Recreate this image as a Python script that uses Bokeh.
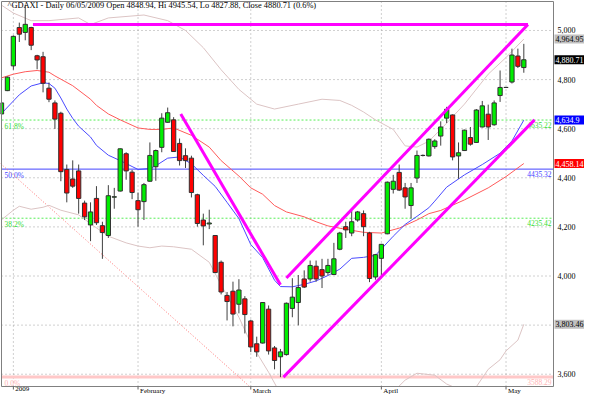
from bokeh.plotting import figure
from bokeh.models import ColumnDataSource
from bokeh.core.properties import value
from bokeh.embed import file_html
from bokeh.resources import INLINE

# ---------------- data ----------------
opens = [4660, 4755, 4856, 5012, 4992, 5012, 4897, 4893, 4765, 4705,
         4663, 4434, 4395, 4428, 4297, 4208, 4316, 4205, 4165, 4321,
         4346, 4498, 4423, 4307, 4303, 4386, 4445, 4524, 4626, 4636,
         4540, 4490, 4480, 4331, 4228, 4212, 4165, 4056, 3921, 3938,
         3885, 3907, 3817, 3724, 3727, 3865, 3707, 3671, 3680, 3868,
         3892, 3988, 3988, 4040, 4026, 4014, 4006, 4109, 4201, 4175,
         4228, 4254, 4175, 3996, 4072, 4172, 4353, 4422, 4359, 4287,
         4399, 4491, 4489, 4527, 4570, 4643, 4656, 4489, 4511, 4564,
         4544, 4607, 4659, 4616, 4735, 4768, 4790, 4896, 4848.94]
highs = [4731, 4812, 4980, 5032, 5103, 5015, 4901, 4913, 4788, 4715,
         4669, 4454, 4471, 4454, 4307, 4300, 4366, 4221, 4370, 4359,
         4520, 4504, 4432, 4340, 4379, 4544, 4515, 4663, 4686, 4647,
         4560, 4520, 4490, 4335, 4254, 4270, 4167, 4063, 3935, 3977,
         3987, 3918, 3822, 3753, 3894, 3880, 3715, 3703, 3892, 3991,
         4004, 4023, 4063, 4063, 4070, 4070, 4135, 4180, 4221, 4265,
         4265, 4267, 4180, 4090, 4131, 4385, 4412, 4454, 4379, 4379,
         4511, 4495, 4560, 4557, 4630, 4689, 4658, 4544, 4596, 4607,
         4680, 4713, 4698, 4715, 4837, 4770, 4926, 4926, 4945.54]
lows = [4656, 4753, 4840, 4953, 4960, 4920, 4842, 4748, 4708, 4599,
        4386, 4300, 4359, 4254, 4228, 4142, 4208, 4070, 4155, 4274,
        4344, 4392, 4313, 4201, 4228, 4384, 4388, 4504, 4624, 4505,
        4450, 4440, 4320, 4201, 4125, 4191, 4012, 3925, 3819, 3795,
        3848, 3766, 3690, 3671, 3725, 3680, 3620, 3588, 3676, 3832,
        3799, 3951, 3977, 3977, 3951, 4003, 4004, 4105, 4155, 4162,
        4221, 4162, 3975, 3985, 4003, 4170, 4336, 4346, 4274, 4234,
        4379, 4487, 4487, 4518, 4531, 4623, 4471, 4396, 4509, 4531,
        4542, 4605, 4554, 4612, 4709, 4766, 4784, 4847, 4827.88]
closes = [4705, 4810, 4976, 4985, 5025, 4940, 4880, 4785, 4720, 4639,
          4425, 4338, 4366, 4316, 4241, 4261, 4217, 4177, 4327, 4323,
          4518, 4428, 4340, 4270, 4372, 4491, 4511, 4643, 4665, 4507,
          4470, 4470, 4340, 4214, 4204, 4216, 4014, 3935, 3896, 3845,
          3943, 3843, 3711, 3691, 3892, 3695, 3656, 3691, 3889, 3914,
          3953, 3955, 4043, 3988, 4000, 4043, 4070, 4175, 4188, 4221,
          4261, 4201, 3990, 4087, 4129, 4382, 4386, 4350, 4322, 4359,
          4491, 4491, 4557, 4550, 4607, 4679, 4485, 4502, 4594, 4537,
          4676, 4693, 4607, 4705, 4768, 4768, 4900, 4854, 4880.71]

# moving averages / bands read at sample days (day index -> price)
blue_day = [0, 3, 5, 7, 8, 9, 10, 11, 12, 13, 15, 16, 18, 20, 22, 23, 25, 26, 28, 30,
            32, 34, 36, 38, 40, 42, 44, 46, 47, 49, 51, 53, 55, 57, 59, 61, 63, 64, 66,
            68, 70, 72, 73, 75, 78, 81, 84, 86, 88]
blue_val = [4662, 4738, 4774, 4787, 4784, 4765, 4725, 4680, 4642, 4610, 4566, 4532, 4492,
            4470, 4446, 4434, 4438, 4449, 4480, 4485, 4457, 4410, 4365, 4300, 4234, 4128,
            4075, 3983, 3957, 3956, 3966, 3980, 4002, 4028, 4072, 4076, 4084, 4110, 4162,
            4210, 4243, 4278, 4305, 4362, 4412, 4454, 4500, 4550, 4634.9]
red_day = [0, 2, 4, 6, 8, 9, 12, 15, 16, 18, 20, 22, 23, 25, 27, 29, 32, 35, 37, 40, 42,
           44, 46, 48, 51, 53, 55, 58, 61, 64, 67, 70, 72, 74, 78, 82, 85, 88]
red_val = [4807, 4822, 4832, 4837, 4830, 4815, 4775, 4720, 4695, 4660, 4636, 4614, 4603,
           4597, 4597, 4603, 4573, 4525, 4470, 4407, 4359, 4333, 4287, 4261, 4241, 4221,
           4204, 4190, 4178, 4175, 4195, 4228, 4254, 4267, 4310, 4359, 4405, 4458.14]
upper_day = [0, 2, 5, 8, 13, 15, 18, 24, 28, 31, 34, 37, 40, 43, 46, 50, 54, 57, 59,
             61, 63, 66, 68, 70, 72, 74, 78, 82, 85, 88]
upper_val = [5103, 5071, 5040, 5040, 5051, 5024, 5051, 5063, 5040, 5000, 4930, 4840, 4760,
             4700, 4680, 4700, 4720, 4715, 4695, 4668, 4636, 4597, 4530, 4525, 4549,
             4597, 4700, 4822, 4890, 4964.95]
lower_day = [0, 2, 3, 5, 7, 8, 10, 13, 15, 18, 21, 23, 25, 27, 29, 32, 35, 37, 40, 42, 45,
             47, 52, 58, 64, 68, 70, 73, 75, 78, 80, 82, 84, 85, 87, 88]
lower_val = [4229, 4268, 4284, 4272, 4280, 4288, 4268, 4249, 4213, 4162, 4135, 4122, 4115,
             4122, 4119, 4109, 4056, 3964, 3832, 3727, 3608, 3520, 3450, 3420, 3480, 3576,
             3604, 3596, 3560, 3529, 3549, 3620, 3659, 3695, 3739, 3803.46]

# drawn trend lines (day index, price)
top_line_day = [5.3, 88.7]
top_line_val = [5024, 5024]
up_line_day = [48.0, 88.7]
up_line_val = [3992, 5024]
v_line_day = [30.2, 47.0]
v_line_val = [4660, 3964]
low_line_day = [47.5, 89.8]
low_line_val = [3588, 4636]
dot_line_day = [-0.16, 41.8]
dot_line_val = [4458, 3550]

# Fibonacci levels
fib_pct = ["0.0%", "38.2%", "50.0%", "61.8%"]
fib_val = [3588.29, 4235.42, 4435.32, 4635.22]

# price scale and months
y_ticks = [3600, 3800, 4000, 4200, 4400, 4600, 4800, 5000]
month_day = [2, 23, 42, 64, 85]
month_name = ["2009", "February", "March", "April", "May"]

# value boxes on the price scale
box_val = [4964.95, 4880.71, 4634.9, 4458.14, 3803.46]
box_txt = ["4,964.95", "4,880.71", "4,634.9", "4,458.14", "3,803.46"]
box_bg = ["#c0c0c0", "#000000", "#0000ff", "#ff0000", "#c0c0c0"]
box_fg = ["#000000", "#ffffff", "#ffffff", "#ffffff", "#000000"]

title_txt = "^GDAXI - Daily 06/05/2009 Open 4848.94, Hi 4945.54, Lo 4827.88, Close 4880.71 (0.6%)"

# ---------------- layout ----------------
W, H = 584, 394
PL, PR, PT, PB = 1, 553, 1, 386          # chart area edges (figure pixels)
X0, X1 = 0.0, 93.0                        # visible day range
Y0, Y1 = 3550, 5118                       # visible price range
ux = (X1 - X0) / (PR - PL)
uy = (Y1 - Y0) / (PB - PT)
SERIF = value("Liberation Serif")
XL, XR = X0 - PL * ux, X1 + (W - PR) * ux
YB, YT = Y0 - (H - PB) * uy, Y1 + PT * uy

p = figure(width=W, height=H, x_range=(XL, XR), y_range=(YB, YT),
           x_axis_location=None, y_axis_location=None,
           toolbar_location=None, output_backend="svg", min_border=0)
p.outline_line_color = None
p.background_fill_color = "white"
p.border_fill_color = "white"
p.xgrid.visible = False
p.ygrid.visible = False

# dotted grid
p.multi_line([[X0, X1] for _ in y_ticks], [[v, v] for v in y_ticks],
             line_color="#a0a0a0", line_dash="1 3", line_width=1)
p.multi_line([[d, d] for d in month_day], [[Y0, Y1] for _ in month_day],
             line_color="#a0a0a0", line_dash="1 3", line_width=1)

# Fibonacci lines
fib_styles = {"0.0%": ("#ffc8c8", 3, "solid", "#ffb4b4"),
              "38.2%": ("#55ee55", 1, "2 2", "#33dd33"),
              "50.0%": ("#4444ff", 1, "solid", "#4444ff"),
              "61.8%": ("#55ee55", 1, "2 2", "#33dd33")}
for pct, v in zip(fib_pct, fib_val):
    col, w, dash, tcol = fib_styles[pct]
    p.line([X0, X1], [v, v], line_color=col, line_width=w, line_dash=dash)
    p.text([X0 + 3 * ux], [v - 1.5 * uy], text=[pct], text_align="left",
           text_baseline="top", text_font=SERIF, text_font_size="7.5px", text_color=tcol)
    p.text([X1 - 2 * ux], [v - 1.5 * uy], text=[f"{v:.2f}"], text_align="right",
           text_baseline="top", text_font=SERIF, text_font_size="7.5px", text_color=tcol)

# red dotted diagonal
p.line(dot_line_day, dot_line_val, line_color="#ff7070", line_width=1, line_dash="1 2")

# bands and moving averages
p.line(upper_day, upper_val, line_color="#dcc4c4", line_width=1)
p.line(lower_day, lower_val, line_color="#dcc4c4", line_width=1)
p.line(red_day, red_val, line_color="#ff5a5a", line_width=1)
p.line(blue_day, blue_val, line_color="#4a4aff", line_width=1)

# candles
days = list(range(len(closes)))
body_top = [max(o, c) for o, c in zip(opens, closes)]
body_bot = [min(o, c) for o, c in zip(opens, closes)]
fill = ["#00ee00" if c >= o else "#ff0000" for o, c in zip(opens, closes)]
src = ColumnDataSource(dict(x=days, h=highs, l=lows, t=body_top, b=body_bot, f=fill))
p.segment(x0="x", y0="l", x1="x", y1="h", source=src, line_color="#404040", line_width=1)
p.vbar(x="x", top="t", bottom="b", width=0.72, source=src, fill_color="f",
       line_color="#303030", line_width=1)

# magenta trend lines
for xs, ys in ((top_line_day, top_line_val), (up_line_day, up_line_val),
               (v_line_day, v_line_val), (low_line_day, low_line_val)):
    p.line(xs, ys, line_color="#ff00ff", line_width=3)

# margins outside the chart area and the frame
p.quad(left=[X1], right=[XR], bottom=[YB], top=[YT], fill_color="white", line_color=None)
p.quad(left=[XL], right=[X1], bottom=[YB], top=[Y0], fill_color="white", line_color=None)
p.line([X0, X1, X1, X0, X0], [Y0, Y0, Y1, Y1, Y0], line_color="#808080", line_width=1)

# price scale labels
p.text([X1 + 4 * ux] * len(y_ticks), y_ticks, text=[f"{v:,}" for v in y_ticks],
       text_align="left", text_baseline="middle", text_font=SERIF,
       text_font_size="8px", text_color="#000000")

# value boxes
p.rect([X1 + 16 * ux] * len(box_val), box_val, width=30, height=9,
       width_units="screen", height_units="screen", fill_color=box_bg, line_color=None)
p.text([X1 + 2 * ux] * len(box_val), box_val, text=box_txt, text_align="left",
       text_baseline="middle", text_font=SERIF, text_font_size="8px", text_color=box_fg)

# month ticks and labels
p.segment(x0=month_day, y0=[Y0] * len(month_day), x1=month_day,
          y1=[Y0 - 3 * uy] * len(month_day), line_color="#606060", line_width=1)
p.text(month_day, [Y0 - 0.5 * uy] * len(month_day), text=month_name,
       x_offset=2, text_align="left", text_baseline="top", text_font=SERIF,
       text_font_size="7px", text_color="#000000")

# title
p.text([X0 + 6 * ux], [Y1 + 0.5 * uy], text=[title_txt], text_align="left",
       text_baseline="top", text_font=SERIF, text_font_size="8.4px",
       text_color="#000000")

open("out.html", "w").write(file_html(p, INLINE))
